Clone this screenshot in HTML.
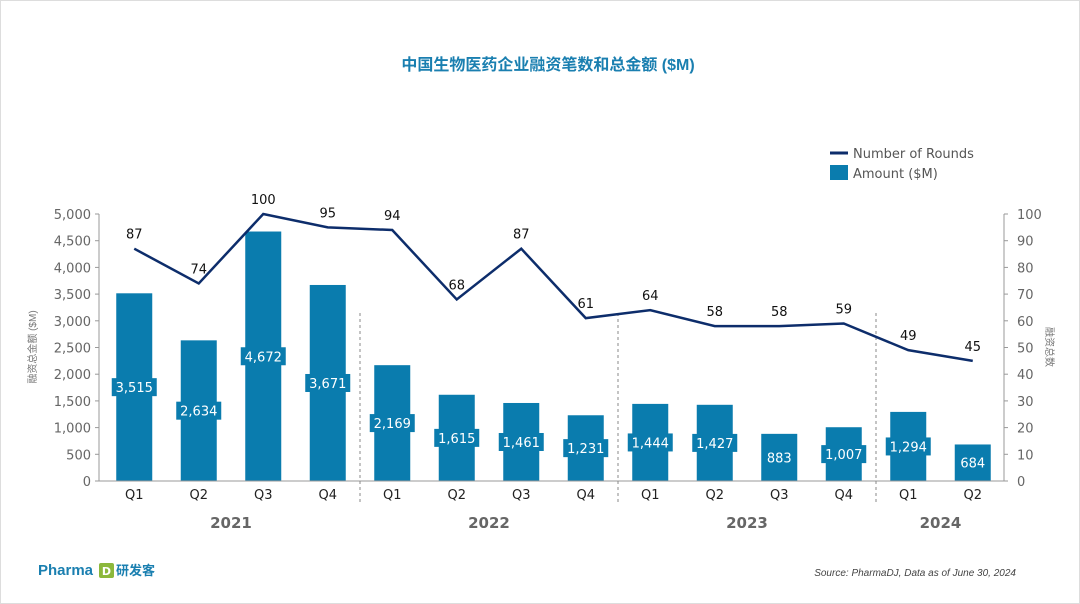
<!DOCTYPE html>
<html><head><meta charset="utf-8"><style>
body{margin:0;background:#fff;}
#wrap{position:relative;width:1080px;height:604px;overflow:hidden;background:#fff;font-family:"DejaVu Sans","Liberation Sans","Noto Sans CJK SC",sans-serif;}
svg text{font-family:"DejaVu Sans","Liberation Sans","Noto Sans CJK SC",sans-serif;}
</style></head><body>
<div id="wrap">
<svg id="chart" width="1080" height="604">
<rect x="0.5" y="0.5" width="1079" height="603" fill="none" stroke="#ddd"/>
<text x="548" y="70" text-anchor="middle" font-size="16" font-weight="bold" fill="#1a7fb0" style='font-family:"Liberation Sans","Noto Sans CJK SC",sans-serif'>中国生物医药企业融资笔数和总金额 ($M)</text>
<g>
<line x1="830" y1="153" x2="848" y2="153" stroke="#0d2d6b" stroke-width="3"/>
<text x="853" y="158" font-size="13" fill="#555">Number of Rounds</text>
<rect x="830" y="165" width="18" height="15" fill="#0a7cae"/>
<text x="853" y="178" font-size="13" fill="#555">Amount ($M)</text>
</g>
<text transform="translate(36,347) rotate(-90)" text-anchor="middle" font-size="10" fill="#777" style='font-family:"Liberation Sans","Noto Sans CJK SC",sans-serif'>融资总金额 ($M)</text>
<text transform="translate(1046,347) rotate(90)" text-anchor="middle" font-size="10" fill="#777" style='font-family:"Liberation Sans","Noto Sans CJK SC",sans-serif'>融资总数</text>
<text x="1016" y="576" text-anchor="end" font-size="10" font-style="italic" fill="#444" style='font-family:"Liberation Sans",sans-serif'>Source: PharmaDJ, Data as of June 30, 2024</text>
<g>
<text x="38" y="575" font-size="15" font-weight="bold" fill="#1a7fb0" style='font-family:"Liberation Sans",sans-serif'>Pharma</text>
<rect x="99" y="563" width="15" height="15" rx="2" fill="#8cb83c"/>
<text x="106.5" y="575" text-anchor="middle" font-size="11" font-weight="bold" fill="#fff">D</text>
<text x="116" y="575" font-size="13" font-weight="bold" fill="#1a7fb0" style='font-family:"Noto Sans CJK SC",sans-serif'>研发客</text>
</g>
<g id="plot"></g>
</svg>
</div>
<script>
const quarters=["Q1","Q2","Q3","Q4","Q1","Q2","Q3","Q4","Q1","Q2","Q3","Q4","Q1","Q2"];
const amounts=[3515,2634,4672,3671,2169,1615,1461,1231,1444,1427,883,1007,1294,684];
const rounds=[87,74,100,95,94,68,87,61,64,58,58,59,49,45];
const years=["2021","2022","2023","2024"];
const yearCounts=[4,4,4,2];
const leftTicks=[0,500,1000,1500,2000,2500,3000,3500,4000,4500,5000];
const rightTicks=[0,10,20,30,40,50,60,70,80,90,100];
const NS="http://www.w3.org/2000/svg";
const g=document.getElementById('plot');
const X0=102,X1=1005,Y0=481,Y1=214,band=(X1-X0)/quarters.length,bw=36;
const xc=i=>X0+band*(i+0.5);
const yL=v=>Y0-(v/5000)*(Y0-Y1);
const yR=v=>Y0-(v/100)*(Y0-Y1);
function mk(tag,attrs,txt){const e=document.createElementNS(NS,tag);for(const k in attrs)e.setAttribute(k,attrs[k]);if(txt!==undefined)e.textContent=txt;g.appendChild(e);return e;}
const fmt=v=>v.toLocaleString('en-US');
// axes
let e=mk('line',{x1:99,y1:Y1,x2:99,y2:Y0,stroke:'#999'});


e=mk('line',{x1:1004,y1:Y1,x2:1004,y2:Y0,stroke:'#999'});


leftTicks.forEach(t=>{mk('line',{x1:95,x2:99,y1:yL(t),y2:yL(t),stroke:'#999'});
 e=mk('text',{x:91,y:yL(t)+5,'text-anchor':'end','font-size':13,fill:'#666'},fmt(t));
 
 });
rightTicks.forEach(t=>{mk('line',{x1:1004,x2:1008,y1:yR(t),y2:yR(t),stroke:'#999'});
 e=mk('text',{x:1017,y:yR(t)+5,'font-size':13,fill:'#666'},t);
 
 });
// bars
amounts.forEach((v,i)=>{
 e=mk('rect',{x:xc(i)-bw/2,y:yL(v),width:bw,height:Y0-yL(v),fill:'#0a7cae'});
 
 
});
e=mk('line',{x1:99,y1:Y0,x2:1004,y2:Y0,stroke:'#999'});


// bar labels
amounts.forEach((v,i)=>{
 const cy=(yL(v)+Y0)/2, s=fmt(v), w=s.length*8.2+4;
 mk('rect',{x:xc(i)-w/2,y:cy-9,width:w,height:18,fill:'#0a7cae'});
 e=mk('text',{x:xc(i),y:cy+5,'text-anchor':'middle','font-size':13,fill:'#fff'},s);
 
 
});
// quarter labels
quarters.forEach((q,i)=>{
 e=mk('text',{x:xc(i),y:499,'text-anchor':'middle','font-size':13,fill:'#222'},q);
 
 
});
// year labels & separators
let start=0;
years.forEach((y,k)=>{
 const n=yearCounts[k];const mid=(xc(start)+xc(start+n-1))/2;
 e=mk('text',{x:mid,y:528,'text-anchor':'middle','font-size':15,'font-weight':'bold',fill:'#666'},y);
 
 
 if(k>0){const sx=X0+band*start;
  e=mk('line',{x1:sx,x2:sx,y1:313,y2:505,stroke:'#888','stroke-dasharray':'3,3'});
  
  }
 start+=n;
});
// line
e=mk('polyline',{points:rounds.map((v,i)=>xc(i)+','+yR(v)).join(' '),fill:'none',stroke:'#0d2d6b','stroke-width':2.5});


rounds.forEach((v,i)=>{
 e=mk('text',{x:xc(i),y:yR(v)-10,'text-anchor':'middle','font-size':13,fill:'#111'},v);
 
 
});
</script>
</body></html>
